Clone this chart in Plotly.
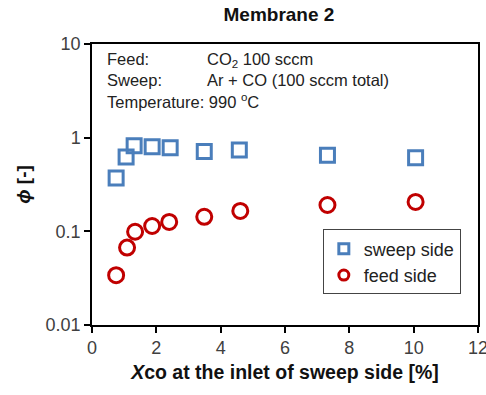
import plotly.graph_objects as go

x_sweep = [0.75, 1.06, 1.31, 1.87, 2.43, 3.49, 4.58, 7.32, 10.06]
phi_sweep = [0.37, 0.62, 0.82, 0.80, 0.78, 0.71, 0.74, 0.65, 0.61]
x_feed = [0.75, 1.09, 1.34, 1.87, 2.40, 3.49, 4.61, 7.32, 10.06]
phi_feed = [0.034, 0.067, 0.099, 0.114, 0.126, 0.143, 0.165, 0.191, 0.206]
x_ticks = [0, 2, 4, 6, 8, 10, 12]
y_ticks = [0.01, 0.1, 1, 10]
y_ticklabels = ["0.01", "0.1", "1", "10"]

FONT = "Liberation Sans, Arial, sans-serif"
BLUE = "#4a7ebb"
RED = "#c00000"

fig = go.Figure()
fig.add_trace(go.Scatter(
    x=x_sweep, y=phi_sweep, mode="markers", name="sweep side", showlegend=False,
    marker=dict(symbol="square-open", size=14, color=BLUE, line=dict(width=3, color=BLUE)),
))
fig.add_trace(go.Scatter(
    x=x_feed, y=phi_feed, mode="markers", name="feed side", showlegend=False,
    marker=dict(symbol="circle-open", size=15, color=RED, line=dict(width=3, color=RED)),
))
# legend entries (smaller symbols as in the reference legend)
fig.add_trace(go.Scatter(
    x=[None], y=[None], mode="markers", name="sweep side",
    marker=dict(symbol="square-open", size=10, color=BLUE, line=dict(width=3, color=BLUE)),
))
fig.add_trace(go.Scatter(
    x=[None], y=[None], mode="markers", name="feed side",
    marker=dict(symbol="circle-open", size=10, color=RED, line=dict(width=3, color=RED)),
))

fig.update_layout(
    width=486, height=395,
    margin=dict(l=92, r=8, t=44, b=70, autoexpand=False),
    paper_bgcolor="white", plot_bgcolor="white",
    font=dict(family=FONT, size=17, color="#333"),
    title=dict(text="<b>Membrane 2</b>", x=0.574, xanchor="center", y=0.963, yanchor="middle",
               font=dict(size=19, family=FONT, color="#111")),
    showlegend=True,
    legend=dict(x=0.598, y=0.34, xanchor="left", yanchor="top",
                bordercolor="#444", borderwidth=1, bgcolor="white",
                font=dict(size=18, family=FONT, color="#222"), itemwidth=30, tracegroupgap=0),
    xaxis=dict(range=[0, 12], tickvals=x_ticks, ticktext=[str(v) for v in x_ticks],
               automargin=False,
               showgrid=False, zeroline=False, showline=True, linecolor="black", linewidth=1.5,
               mirror=True, ticks="outside", ticklen=6, tickcolor="black", tickwidth=1.5,
               ticklabeloverflow="allow",
               tickfont=dict(size=18, color="#404040"),
               title=dict(text="<b><i>X</i>co at the inlet of sweep side [%]</b>", standoff=8,
                          font=dict(size=19.5, color="#111"))),
    yaxis=dict(type="log", range=[-2, 1], tickvals=y_ticks, ticktext=y_ticklabels,
               automargin=False,
               showgrid=False, zeroline=False, showline=True, linecolor="black", linewidth=1.5,
               mirror=True, ticks="outside", ticklen=6, tickcolor="black", tickwidth=1.5,
               tickfont=dict(size=18, color="#404040"),
               title=dict(text="<b><i>ϕ</i> [-]</b>", standoff=10, font=dict(size=19, color="#111"))),
)

fig.add_annotation(xref="paper", yref="paper", x=0.033, y=0.985, xanchor="left", yanchor="top",
                   align="left", showarrow=False,
                   text="Feed:<br>Sweep:<br>Temperature: 990 <sup>o</sup>C",
                   font=dict(size=16.5, family=FONT, color="#222"))
fig.add_annotation(xref="paper", yref="paper", x=0.293, y=0.985, xanchor="left", yanchor="top",
                   align="left", showarrow=False,
                   text="CO<sub>2</sub> 100 sccm<br>Ar + CO (100 sccm total)",
                   font=dict(size=16.5, family=FONT, color="#222"))

fig.write_html("out.html")
